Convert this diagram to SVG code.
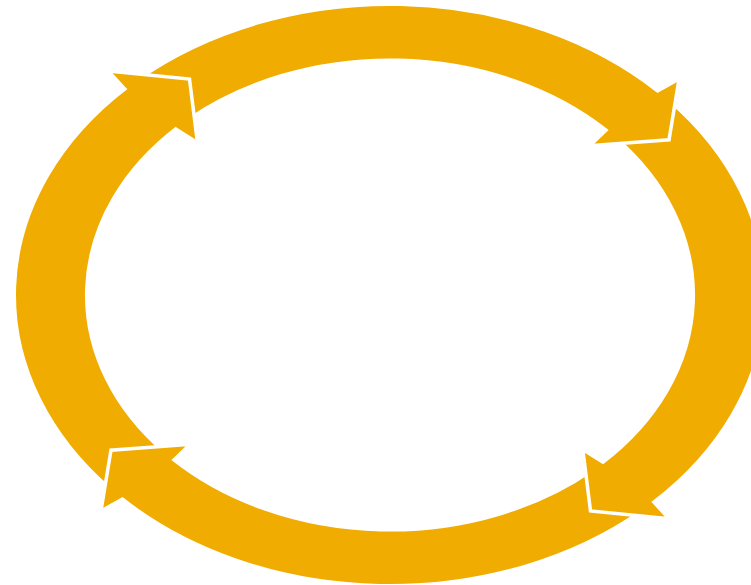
<svg xmlns="http://www.w3.org/2000/svg" width="751" height="585" viewBox="0 0 751 585">
<style>
.arrow{fill:#F0AC00;stroke:#FFFFFF;stroke-width:3.5;stroke-linejoin:miter;vector-effect:non-scaling-stroke}
.headfill{fill:#F0AC00;stroke:none}
.headedge{fill:none;stroke:#FFFFFF;stroke-width:3.5;stroke-linejoin:miter;vector-effect:non-scaling-stroke}
</style>
<rect x="0" y="0" width="751" height="585" fill="#FFFFFF"/>
<g id="connectors" transform="translate(390,295) scale(3.385,2.62)">
  <g id="arrow-left">
    <path class="arrow" d="M -82.49 74.27 A 111 111 0 0 1 -77.94 -79.04 L -82.46 -85.39 L -59.23 -82.43 L -56.96 -58.99 L -62.91 -63.80 A 89.6 89.6 0 0 0 -66.59 59.95 Z"/>
  </g>
  <g id="arrow-bottom">
    <path class="arrow" d="M 74.27 82.49 A 111 111 0 0 1 -79.04 77.94 L -85.39 82.46 L -82.43 59.23 L -58.99 56.96 L -63.80 62.91 A 89.6 89.6 0 0 0 59.95 66.59 Z"/>
  </g>
  <g id="arrow-right">
    <path class="arrow" d="M 82.49 -74.27 A 111 111 0 0 1 77.94 79.04 L 82.46 85.39 L 59.23 82.43 L 56.96 58.99 L 62.91 63.80 A 89.6 89.6 0 0 0 66.59 -59.95 Z"/>
  </g>
  <g id="arrow-top">
    <path class="arrow" d="M -74.27 -82.49 A 111 111 0 0 1 79.04 -77.94 L 85.39 -82.46 L 82.43 -59.23 L 58.99 -56.96 L 63.80 -62.91 A 89.6 89.6 0 0 0 -59.95 -66.59 Z"/>
  </g>
  <g id="arrow-left-head">
    <path class="headfill" d="M -77.94 -79.04 L -82.46 -85.39 L -59.23 -82.43 L -56.96 -58.99 L -62.91 -63.80 Z"/>
    <path class="headedge" d="M -82.46 -85.39 L -59.23 -82.43 L -56.96 -58.99"/>
  </g>
</g>
</svg>
